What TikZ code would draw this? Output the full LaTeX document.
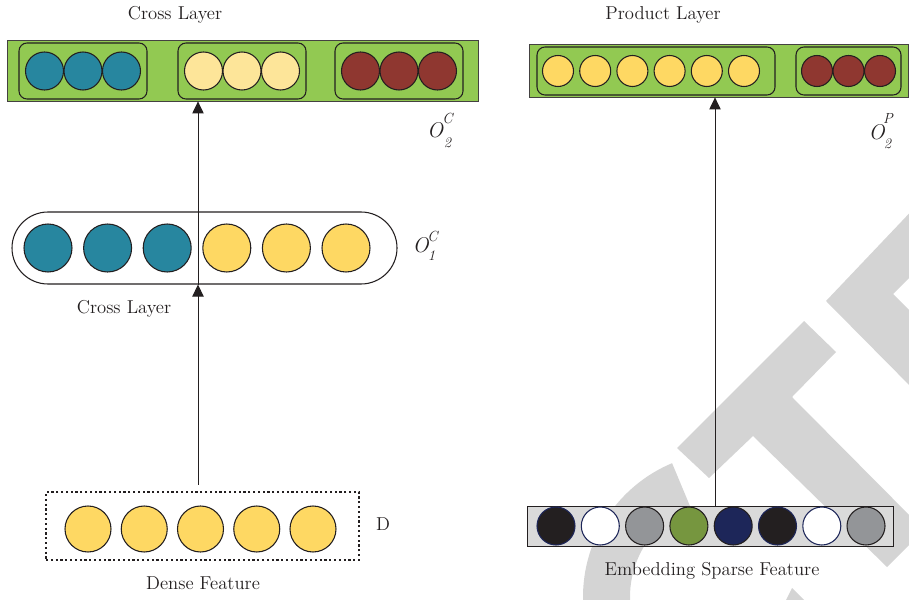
\documentclass[tikz,border=0pt]{standalone}
\usetikzlibrary{arrows.meta}
\definecolor{ink}{HTML}{231F20}
\definecolor{leaf}{RGB}{146,201,82}
\definecolor{tealc}{HTML}{27869F}
\definecolor{paleyel}{HTML}{FDE599}
\definecolor{brick}{HTML}{8F3730}
\definecolor{sun}{HTML}{FED863}
\definecolor{stone}{HTML}{939598}
\definecolor{moss}{HTML}{76963F}
\definecolor{navy}{HTML}{1D2659}
\definecolor{wmgray}{RGB}{212,212,212}
\definecolor{barfill}{RGB}{218,218,218}
\tikzset{
  dot/.style={circle, draw=ink, line width=0.8pt, inner sep=0pt, minimum size=#1},
  bar/.style={rectangle, draw=ink!85, fill=leaf, line width=0.6pt, inner sep=0pt},
  group/.style={rectangle, rounded corners=6pt, draw=ink, line width=0.8pt, inner sep=0pt},
  flow/.style={draw=ink, line width=0.75pt, -{Triangle[width=8.5pt,length=9pt]}},
  lbl/.style={text=ink, font=\fontsize{14}{16}\selectfont, inner sep=0pt},
  obig/.style={text=ink, font=\fontsize{16}{19}\selectfont\itshape, inner sep=0pt},
  osmall/.style={text=ink, font=\fontsize{11}{13}\selectfont\itshape, inner sep=0pt}
}
\begin{document}
\begin{tikzpicture}[x=0.75pt, y=-0.75pt]
\useasboundingbox (0,0) rectangle (909,599);

% light grey background lettering
\begin{scope}
  \clip (616,329) -- (728,597) -- (728,640) -- (480,640) -- (480,329) -- cycle;
  \fill[wmgray, even odd rule] (728,597) circle[radius=108.75pt] (728,597) circle[radius=73.5pt];
\end{scope}
\fill[wmgray] (804,321) -- (836,352) -- (792,397) -- (924,530) -- (887,567)
  -- (753,436) -- (709,478) -- (677,448) -- cycle;
\fill[wmgray] (920,202) -- (826,301) -- (920,396) -- (920,321) -- (893,294) -- (920,267) -- cycle;
\fill[wmgray] (786,600) -- (792,588) -- (804,600) -- cycle;

% ---------- left branch ----------
\node[bar, minimum width=353.25pt, minimum height=45.75pt] (cl) at (242.5,70.5) {};
\node[group, minimum width=96pt, minimum height=42pt] (g1) at (83,71) {};
\node[group, minimum width=96pt, minimum height=42pt] (g2) at (242,71) {};
\node[group, minimum width=96pt, minimum height=42pt] (g3) at (399,71) {};
\foreach \i in {0,1,2} {
  \node[dot=28.5pt, fill=tealc] (a\i) at ({83+38.5*(\i-1)},71) {};
  \node[dot=28.5pt, fill=paleyel] (b\i) at ({242+38.5*(\i-1)},71) {};
  \node[dot=28.5pt, fill=brick] (c\i) at ({399+38.5*(\i-1)},71) {};
}

\node[draw=ink, line width=0.8pt, rounded corners=27pt, minimum width=288.75pt,
      minimum height=54pt, inner sep=0pt] (o1) at (204.5,248) {};
\foreach \i in {0,1,2}
  \node[dot=36pt, fill=tealc] (p\i) at ({48+59.6*\i},248) {};
\foreach \i in {3,4,5}
  \node[dot=36pt, fill=sun] (p\i) at ({48+59.6*\i},248) {};

\node[draw=ink, line width=0.8pt, dash pattern=on 1.6pt off 2pt, minimum width=234.75pt,
      minimum height=51pt, inner sep=0pt] (dense) at (202.5,526) {};
\foreach \i in {0,...,4}
  \node[dot=34.5pt, fill=sun] (d\i) at ({88+56.25*\i},529) {};

\coordinate (la) at (198,0);
\draw[flow, shorten <=5pt] (la |- dense.north) -- (la |- o1.south);
\draw[flow] (la |- o1.south) -- (la |- cl.south);

% ---------- right branch ----------
\node[bar, minimum width=284.25pt, minimum height=39.75pt] (pl) at (718.5,70.5) {};
\node[group, minimum width=178.5pt, minimum height=36pt] (h1) at (656,71) {};
\node[group, minimum width=78.75pt, minimum height=36pt] (h2) at (848.5,71) {};
\foreach \i in {0,...,5}
  \node[dot=23.25pt, fill=sun] (q\i) at ({558+37.2*\i},71) {};
\foreach \i in {0,1,2}
  \node[dot=23.25pt, fill=brick] (r\i) at ({817+31.5*\i},71) {};

\node[draw=ink, fill=barfill, line width=0.7pt, minimum width=274.5pt,
      minimum height=30pt, inner sep=0pt] (sparse) at (710,526) {};
\node[dot=28.5pt, fill=ink, draw=navy] (s0) at (556,526) {};
\node[dot=28.5pt, fill=white, draw=navy] (s1) at (600.3,526) {};
\node[dot=28.5pt, fill=stone] (s2) at (644.6,526) {};
\node[dot=28.5pt, fill=moss] (s3) at (688.9,526) {};
\node[dot=28.5pt, fill=navy] (s4) at (733.2,526) {};
\node[dot=28.5pt, fill=ink, draw=navy] (s5) at (777.5,526) {};
\node[dot=28.5pt, fill=white, draw=navy] (s6) at (821.8,526) {};
\node[dot=28.5pt, fill=stone] (s7) at (866,526) {};

\coordinate (ra) at (715,0);
\draw[flow] (ra |- sparse.north) -- (ra |- pl.south);

% ---------- labels ----------
\node[lbl] (t1) at (175,15) {Cross Layer};
\node[lbl] (t2) at (663,15) {Product Layer};
\node[lbl] (t3) at (124,309) {Cross Layer};
\node[lbl] (t4) at (203,583) {Dense Feature};
\node[lbl] (t5) at (712,571) {Embedding Sparse Feature};
\node[lbl] (t6) at (383,524) {D};

% output symbols with raised and lowered indices
\node[obig] (o2c) at (435,130.5) {O};
\node[osmall] (o2cs) at (447.5,118) {C};
\node[osmall] (o2cb) at (447.5,143) {2};
\node[obig] (o1c) at (420.5,245.5) {O};
\node[osmall] (o1cs) at (432.5,236) {C};
\node[osmall] (o1cb) at (431.5,256) {1};
\node[obig] (o2p) at (876.5,132) {O};
\node[osmall] (o2ps) at (888,118) {P};
\node[osmall] (o2pb) at (887.5,144) {2};
\end{tikzpicture}
\end{document}
